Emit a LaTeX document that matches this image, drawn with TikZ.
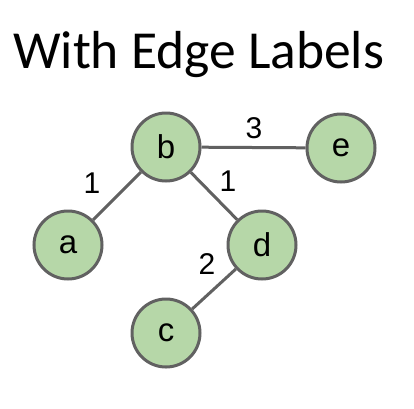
\documentclass[tikz,border=0pt]{standalone}
\usepackage{fontspec}
\setmainfont{Liberation Sans}
\newfontfamily\titlefont{Carlito}
\begin{document}
\begin{tikzpicture}[x=1pt,y=-1pt,
  vert/.style={circle,draw=black!62,fill=nodegreen,line width=3pt,minimum size=68pt,inner sep=0pt,font=\fontsize{33}{33}\selectfont},
  edge/.style={draw=black!62,line width=3pt},
  elabel/.style={font=\fontsize{30}{30}\selectfont,inner sep=0pt}]
\definecolor{nodegreen}{HTML}{B6D7A8}
\useasboundingbox (0,0) rectangle (414,408);
\node[anchor=base west,inner sep=0pt,font=\titlefont\fontsize{53.5}{53.5}\selectfont] (title) at (13,68) {With Edge Labels};
\node[vert] (b) at (166,147) {b};
\node[vert] (e) at (341,148) {e};
\node[vert] (a) at (68,245) {a};
\node[vert] (d) at (262,245) {d};
\node[vert] (c) at (166,333) {c};
\draw[edge] (b) -- (e);
\draw[edge] (b) -- (a);
\draw[edge] (b) -- (d);
\draw[edge] (d) -- (c);
\node[elabel] (l3) at (254,128) {3};
\node[elabel] (l1a) at (92,183) {1};
\node[elabel] (l1b) at (228,181) {1};
\node[elabel] (l2) at (207,264) {2};
\end{tikzpicture}
\end{document}
